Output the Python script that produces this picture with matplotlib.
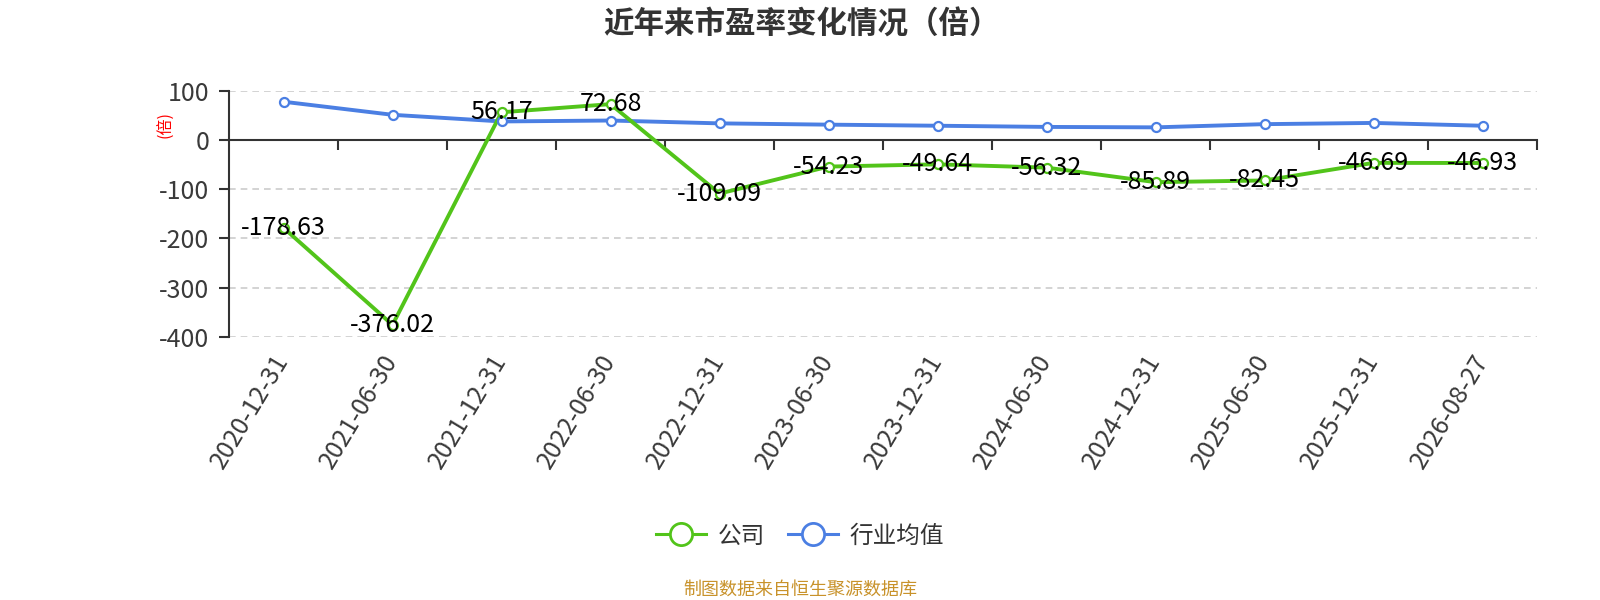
import matplotlib
matplotlib.use('Agg')
import matplotlib.pyplot as plt
from matplotlib.lines import Line2D
import numpy as np

plt.rcParams['font.family'] = ['Noto Sans CJK SC', 'DejaVu Sans']

dates = ['2020-12-31', '2021-06-30', '2021-12-31', '2022-06-30', '2022-12-31', '2023-06-30',
         '2023-12-31', '2024-06-30', '2024-12-31', '2025-06-30', '2025-12-31', '2026-08-27']
company = [-178.63, -376.02, 56.17, 72.68, -109.09, -54.23, -49.64, -56.32, -85.89, -82.45, -46.69, -46.93]
industry = [77.6, 51.0, 37.5, 39.4, 33.6, 31.0, 28.8, 26.4, 25.5, 32.0, 34.5, 28.8]
yticks = [-400, -300, -200, -100, 0, 100]

green = '#52C41A'
blue = '#4B7FE3'
axis_c = '#333333'

fig = plt.figure(figsize=(16, 6), dpi=100)
ax = fig.add_axes([229 / 1600, 1 - 336.7 / 600, (1537 - 229) / 1600, (336.7 - 90.7) / 600])

x = np.arange(len(dates))

ax.plot(x, industry, color=blue, lw=2.8, zorder=3)
ax.plot(x, company, color=green, lw=2.8, zorder=3.5)
ax.plot(x, industry, ls='none', marker='o', ms=6.5, mfc='white', mec=blue, mew=1.6, zorder=4)
ax.plot(x, company, ls='none', marker='o', ms=6.5, mfc='white', mec=green, mew=1.6, zorder=4)

for xi, v in zip(x, company):
    ax.annotate(f'{v:.2f}', (xi, v), xytext=(0, -5), textcoords='offset points',
                ha='center', va='baseline', fontsize=18, color='black', zorder=6)

ax.set_xlim(-0.5, len(dates) - 0.5)
ax.set_ylim(-400, 100)
ax.set_yticks(yticks)
ax.set_yticklabels([str(t) for t in yticks])
ax.set_xticks(x)
ax.set_xticklabels(dates, rotation=59, ha='right', va='center', rotation_mode='anchor')

for t in yticks:
    if t != 0:
        ax.axhline(t, color='#cccccc', lw=1.2, ls=(0, (4, 3)), zorder=1)

for s in ['top', 'right', 'bottom']:
    ax.spines[s].set_visible(False)
ax.spines['left'].set_color(axis_c)
ax.spines['left'].set_linewidth(1.5)
ax.tick_params(axis='y', length=7, width=1.5, color=axis_c, labelsize=18, labelcolor='#3a3a3a', pad=7)
ax.tick_params(axis='x', length=0, labelsize=18, labelcolor='#3a3a3a', pad=14)

# zero axis line with ticks at category boundaries
sec = ax.secondary_xaxis(0, transform=ax.transData)
sec.set_alignment('bottom')
sec.set_xticks(np.arange(-0.5, len(dates), 1.0)[1:])
sec.tick_params(axis='x', direction='out', length=7, width=1.5, color=axis_c,
                labelbottom=False, labeltop=False)
sec.spines['bottom'].set_color(axis_c)
sec.spines['bottom'].set_linewidth(1.5)

fig.text(0.501, 1 - 25 / 600, '近年来市盈率变化情况（倍）', ha='center', va='center',
         fontsize=22, fontweight='bold', color='#333333')
fig.text(166 / 1600, 1 - 125 / 600, '(倍)', rotation=90, ha='center', va='center',
         fontsize=11.5, color='red')

handles = [Line2D([], [], color=green, lw=2.2, marker='o', ms=16, mfc='white', mec=green, mew=2),
           Line2D([], [], color=blue, lw=2.2, marker='o', ms=16, mfc='white', mec=blue, mew=2)]
fig.legend(handles, ['公司', '行业均值'], loc='center', bbox_to_anchor=(0.5, 1 - 536 / 600),
           ncol=2, frameon=False, fontsize=17, handlelength=2.1, handletextpad=0.5,
           columnspacing=1.0, labelcolor='#333333')

fig.text(0.5, 1 - 590 / 600, '制图数据来自恒生聚源数据库', ha='center', va='center',
         fontsize=13, color='#C8922A')

fig.savefig('out.png', dpi=100)
